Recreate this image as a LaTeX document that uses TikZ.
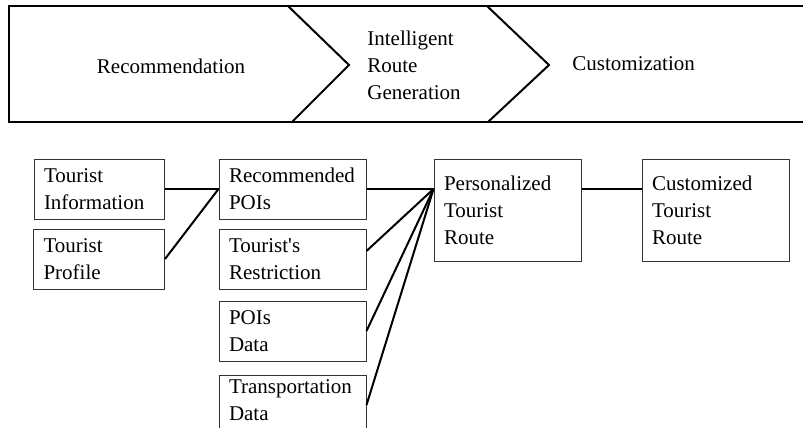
\documentclass[tikz,border=0pt]{standalone}
\usepackage{fontspec}
\setmainfont{Liberation Serif}
\usepackage{tikz}
\usetikzlibrary{positioning}
\tikzset{
    infobox/.style={rectangle, draw=black!80, line width=0.5pt, align=left, text width=#1, minimum height=30pt, inner xsep=5pt, inner ysep=0pt, font=\fontsize{10.5}{13.5}\selectfont},
    infobox/.default=63.5pt,
    routebox/.style={infobox, minimum height=51pt},
    stage/.style={align=left, inner sep=1.5pt, font=\fontsize{10.5}{13.5}\selectfont},
    frame/.style={line width=1pt, draw=black},
    link/.style={line width=1pt, draw=black}
}
\begin{document}
\begin{tikzpicture}[x=0.5pt, y=-0.5pt]
        \useasboundingbox (0,0) rectangle (803,428);

        % Stages
        \draw[frame] (9,6) rectangle (830,122);
        \draw[frame] (288,6) -- (349,65) -- (292,122);
        \draw[frame] (487,6) -- (549,65) -- (488,122);
        \node[stage] (rec) at (171,66) {Recommendation};
        \node[stage, anchor=west] (gen) at (364,65) {Intelligent\\Route\\Generation};
        \node[stage, anchor=west] (cus) at (569,64) {Customization};

        % Nodes
        \node[infobox=55pt] (TI) at (99,189) {Tourist\\Information};
        \node[infobox=55.5pt, below=4.5pt of TI] (TP) {Tourist\\Profile};
        \node[infobox, right=27pt of TI] (RP) {Recommended\\POIs};
        \node[infobox, below=4.5pt of RP] (TR) {Tourist\textquotesingle s\\Restriction};
        \node[infobox, below=5.5pt of TR] (PD) {POIs\\Data};
        \node[infobox, below=6.5pt of PD, text depth=18.5pt] (TD) {Transportation\\Data};
        \node[routebox, right=33.5pt of RP.north east, anchor=north west] (PR) {Personalized\\Tourist\\Route};
        \node[routebox=64.5pt, right=30pt of PR] (CR) {Customized\\Tourist\\Route};
        \coordinate (hub) at (PR.west |- RP.east);

        % Edges
        \draw[link] (TI.east) -- (RP.west);
        \draw[link] (TP.east) -- (RP.west);
        \draw[link] (RP.east) -- (hub);
        \draw[link] ([yshift=4pt]TR.east) -- (hub);
        \draw[link] (PD.east) -- (hub);
        \draw[link] (TD.east) -- (hub);
        \draw[link] (PR.east |- hub) -- (CR.west |- hub);

    \end{tikzpicture}
\end{document}
